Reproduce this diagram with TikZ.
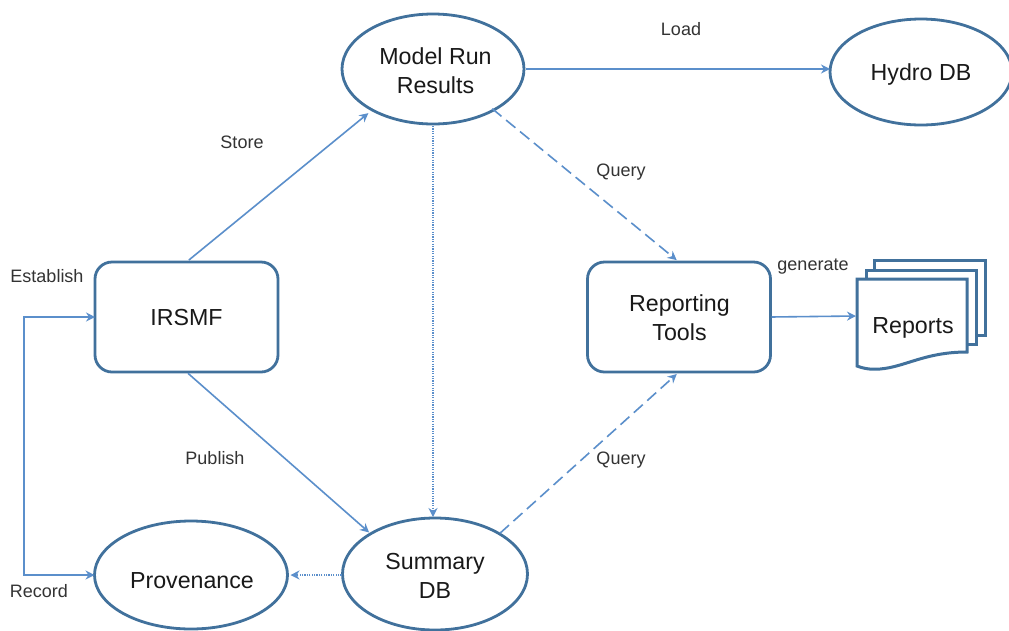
\documentclass[tikz,border=0pt]{standalone}
\usepackage{fontspec}
\setmainfont{Liberation Sans}
\usetikzlibrary{shapes.geometric,arrows.meta}
\definecolor{shapeblue}{HTML}{41719C}
\definecolor{linkblue}{HTML}{5B8FCB}
\definecolor{labelgray}{HTML}{333333}
\newcommand{\dnshift}[3]{\raisebox{-#1}[\height][\depth]{\kern#2\relax #3}}
\tikzset{
  base/.style={draw=shapeblue,line width=2.8pt,fill=white,inner sep=0pt,outer sep=0pt,align=center,text=black!90,font=\fontsize{23.2}{29}\selectfont},
  oval/.style={base,ellipse},
  box/.style={base,rectangle,rounded corners=17pt,minimum width=183pt,minimum height=110pt},
  link/.style={draw=linkblue,line width=1.6pt,-{Stealth[length=9pt,width=9pt]}},
  dashlink/.style={link,dash pattern=on 12pt off 6pt},
  dotlink/.style={link,line width=1.2pt,dash pattern=on 1.2pt off 1.2pt},
  lab/.style={inner sep=0pt,text=labelgray,font=\fontsize{18}{21}\selectfont},
  page/.style={draw=shapeblue,line width=3pt,fill=white,line join=miter}
}
\begin{document}
\begin{tikzpicture}[x=1pt,y=-1pt]
\useasboundingbox (0,0) rectangle (1009,630);
\fill[white] (0,0) rectangle (1009,630);
\node[oval,minimum width=182pt,minimum height=110pt] (model) at (433,69) {\dnshift{2pt}{5pt}{Model Run}\\\dnshift{2pt}{5pt}{Results}};
\node[oval,minimum width=182pt,minimum height=106pt] (hydro) at (921,72) {\dnshift{2pt}{0pt}{Hydro DB}};
\node[oval,minimum width=193pt,minimum height=108pt] (prov) at (191,575) {\dnshift{6pt}{2pt}{Provenance}};
\node[oval,minimum width=185pt,minimum height=112pt] (summary) at (435,574) {\dnshift{2pt}{0pt}{Summary}\\\dnshift{2pt}{0pt}{DB}};
\node[box] (irsmf) at (186.5,317) {\dnshift{1pt}{0pt}{IRSMF}};
\node[box] (reporting) at (679,317) {\dnshift{1pt}{1pt}{Reporting}\\\dnshift{1pt}{1pt}{Tools}};
% report stack
\draw[page] (874,260) -- (985,260) -- (985,335) -- (874,335) -- cycle;
\draw[page] (866,270) -- (976,270) -- (976,344) -- (866,344) -- cycle;
\draw[page] (857,279) -- (967,279) -- (967,352) .. controls (925,352) and (905,367) .. (880,369) .. controls (870,370) and (862,368) .. (857,366) -- cycle;
\node[inner sep=0pt,minimum width=110pt,minimum height=88pt,font=\fontsize{23.2}{29}\selectfont,text=black!90] (reports) at (913,328) {Reports};
\coordinate (reportsin) at (856,316);
\coordinate (busa) at (24,317);
\coordinate (busb) at (24,575);
% connectors
\draw[link,shorten <=3pt,shorten >=5pt] (irsmf.north) -- (model.214);
\draw[link,shorten <=2pt,shorten >=2pt] (irsmf.south) -- (summary.148);
\draw[dotlink,shorten <=2pt,shorten >=1pt] (model.south) -- (model.south |- summary.north);
\draw[dashlink,shorten <=-2pt,shorten >=3pt] (model.326) -- (reporting.north);
\draw[dashlink,shorten <=1pt,shorten >=3pt] (summary.32) -- (reporting.south);
\draw[link,shorten <=2pt] (model.east) -- (model.east -| hydro.west);
\draw[link,shorten <=1pt] (reporting.east) -- (reportsin);
\draw[dotlink,shorten <=1pt,shorten >=3pt] (summary.west |- prov.east) -- (prov.east);
\draw[link,{Stealth[length=9pt,width=9pt]}-{Stealth[length=9pt,width=9pt]}] (irsmf.west) -- (busa) -- (busb) -- (prov.west);
% labels
\node[lab] (l1) at (242,142) {Store};
\node[lab] (l2) at (681,29) {Load};
\node[lab] (l3) at (621,172) {Query};
\node[lab] (l4) at (621,460) {Query};
\node[lab] (l5) at (215,458) {Publish};
\node[lab] (l6) at (47,276) {Establish};
\node[lab] (l7) at (39,591) {Record};
\node[lab] (l8) at (813,267) {generate};
\end{tikzpicture}
\end{document}
